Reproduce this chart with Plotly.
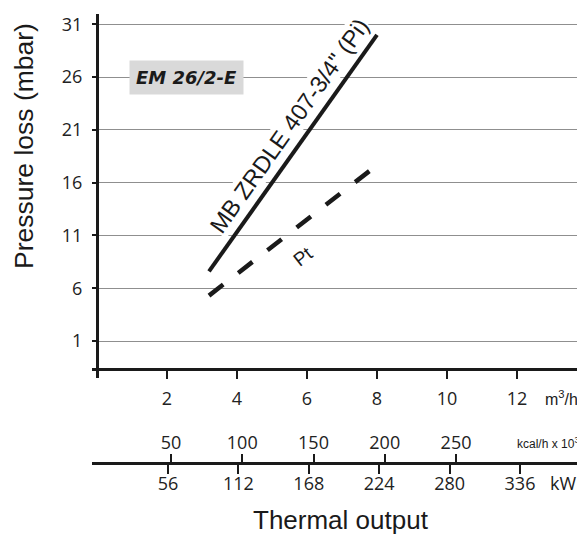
import plotly.graph_objects as go

# ---- data ----
flow_solid = [3.2, 8.0]      # m3/h
loss_solid = [7.6, 30.0]     # mbar  (MB ZRDLE 407-3/4" (Pi))
flow_dash = [3.2, 7.9]       # m3/h
loss_dash = [5.3, 17.4]      # mbar  (Pt)

y_ticks = [1, 6, 11, 16, 21, 26, 31]
flow_ticks = [2, 4, 6, 8, 10, 12]
kcal_ticks = [50, 100, 150, 200, 250]
kw_ticks = [56, 112, 168, 224, 280, 336]

label_solid = 'MB ZRDLE 407-3/4" (Pi)'
label_dash = 'Pt'
model_label = 'EM 26/2-E'

# ---- layout geometry (screen pixels; page body has an 8px margin) ----
OFF = 8
W, H = 585 - OFF, 534 - OFF
L, R, T, B = 92 - OFF, 0, 14 - OFF, 54
pw = W - L - R
ph = H - T - B


def px(X):
    return (X - OFF - L) / pw


def py(Y):
    return (H - B - (Y - OFF)) / ph


INK = '#1a1a1a'
NUM_FONT = 'Open Sans'
TXT_FONT = 'Liberation Sans'

fig = go.Figure()
fig.add_trace(go.Scatter(x=flow_solid, y=loss_solid, mode='lines',
                         line=dict(color=INK, width=4), showlegend=False,
                         hoverinfo='skip'))
fig.add_trace(go.Scatter(x=flow_dash, y=loss_dash, mode='lines',
                         line=dict(color=INK, width=4.5, dash='18px,19px'),
                         showlegend=False, hoverinfo='skip'))
# empty traces so the secondary scales exist
fig.add_trace(go.Scatter(x=[], y=[], xaxis='x2', yaxis='y', showlegend=False))
fig.add_trace(go.Scatter(x=[], y=[], xaxis='x3', yaxis='y', showlegend=False))

axis_common = dict(showline=True, linecolor=INK, ticks='outside',
                   tickcolor=INK, showgrid=False, zeroline=False,
                   tickfont=dict(family=NUM_FONT, size=18, color='#222'))

fig.update_layout(
    width=W, height=H,
    margin=dict(l=L, r=R, t=T, b=B, pad=0),
    paper_bgcolor='white', plot_bgcolor='white',
    showlegend=False,
    xaxis=dict(domain=[0, 1], range=[-0.143, 13.943], anchor='free',
               position=py(369), linewidth=3, ticklen=8, tickwidth=1.5,
               tickvals=flow_ticks, ticklabelstandoff=4, **axis_common),
    xaxis2=dict(overlaying='x', range=[-5.44, 340.5], anchor='free',
                position=py(463), side='top', linewidth=3, ticklen=8,
                tickwidth=1.5, tickvals=kcal_ticks, ticklabelstandoff=-2,
                **axis_common),
    xaxis3=dict(overlaying='x', range=[-4.46, 387.7], anchor='free',
                position=py(463), side='bottom', linewidth=3, ticklen=9,
                tickwidth=1.5, tickvals=kw_ticks, ticklabelstandoff=-6,
                **axis_common),
    yaxis=dict(domain=[py(378), 1], range=[-2.505, 31.976], anchor='free',
               position=px(97), showline=True, linecolor=INK, linewidth=3,
               ticks='outside', ticklen=4, tickwidth=2, tickcolor=INK,
               showgrid=True, gridcolor='#8f8f8f', gridwidth=1.3,
               zeroline=False, tickvals=y_ticks, ticklabelstandoff=6,
               tickfont=dict(family=NUM_FONT, size=18, color='#222')),
)

C = dict(xanchor='center', yanchor='middle', showarrow=False)
ann = []
ann.append(dict(x=2.55, y=26, xref='x', yref='y', text='<b><i>' + model_label + '</i></b>',
                bgcolor='#d9d9d9', borderpad=6,
                font=dict(family='DejaVu Sans', size=18, color=INK), **C))
ann.append(dict(x=5.49, y=21.4, xref='x', yref='y', text=label_solid,
                textangle=-54.7, bgcolor='white', borderpad=0,
                font=dict(family=TXT_FONT, size=23.5, color=INK), **C))
ann.append(dict(x=5.89, y=8.96, xref='x', yref='y', text=label_dash,
                textangle=-38,
                font=dict(family=TXT_FONT, size=19, color=INK), **C))
ann.append(dict(x=px(561), y=py(398), xref='paper', yref='paper',
                text='m<sup>3</sup>/h',
                font=dict(family=TXT_FONT, size=16, color=INK), **C))
ann.append(dict(x=px(581), y=py(443), xref='paper', yref='paper',
                text='kcal/h x 10<sup>3</sup>',
                xanchor='right', yanchor='middle', showarrow=False,
                font=dict(family=TXT_FONT, size=12, color=INK)))
ann.append(dict(x=px(563), y=py(483), xref='paper', yref='paper',
                text='kW',
                font=dict(family=NUM_FONT, size=18, color=INK), **C))
ann.append(dict(x=px(341), y=py(520), xref='paper', yref='paper',
                text='Thermal output',
                font=dict(family=TXT_FONT, size=26, color=INK), **C))
ann.append(dict(x=px(24), y=py(146), xref='paper', yref='paper',
                text='Pressure loss (mbar)', textangle=-90,
                font=dict(family=TXT_FONT, size=26.5, color=INK), **C))
fig.update_layout(annotations=ann)

fig.write_html('out.html')
